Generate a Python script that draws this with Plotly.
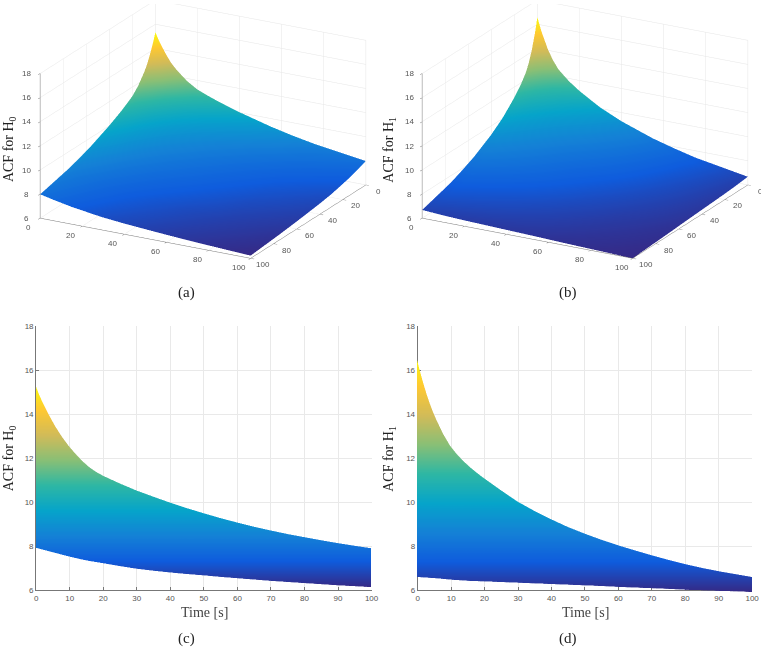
import numpy as np
import plotly.graph_objects as go

t_grid = [0, 2, 5, 7.5, 10, 15, 20, 25, 30, 40, 55, 65, 75, 100]
t_edge = [0, 1, 2, 3, 4, 5, 6, 8, 10, 12, 14, 16, 18, 20, 25, 30, 35, 40, 45, 50,
          55, 60, 65, 70, 75, 80, 85, 90, 95, 99.5]
ticks_3d = [0, 20, 40, 60, 80, 100]
ticks_time = [0, 10, 20, 30, 40, 50, 60, 70, 80, 90, 100]
ticks_acf = [6, 8, 10, 12, 14, 16, 18]

h0_rows = [
    [15.35, 14.6, 13.7, 13.05, 12.57, 11.8, 11.25, 10.9, 10.58, 10.03, 9.33, 8.94, 8.61, 7.98],
    [13.9, 13.05, 12.5, 12.06, 11.4, 10.9, 10.54, 10.21, 9.68, 9.02, 8.68, 8.36, 7.9],
    [12.49, 12.02, 11.63, 11.05, 10.58, 10.25, 9.97, 9.47, 8.86, 8.53, 8.23, 7.78],
    [11.67, 11.27, 10.75, 10.33, 10.0, 9.74, 9.28, 8.72, 8.41, 8.13, 7.69],
    [10.95, 10.47, 10.07, 9.79, 9.53, 9.10, 8.59, 8.30, 8.04, 7.6],
    [10.06, 9.71, 9.44, 9.20, 8.82, 8.35, 8.09, 7.85, 7.43],
    [9.40, 9.15, 8.93, 8.58, 8.16, 7.92, 7.70, 7.3],
    [8.93, 8.73, 8.40, 8.0, 7.77, 7.56, 7.17],
    [8.56, 8.23, 7.85, 7.63, 7.43, 7.05],
    [7.96, 7.62, 7.42, 7.23, 6.88],
    [7.33, 7.15, 6.98, 6.68],
    [7.0, 6.84, 6.56],
    [6.72, 6.45],
    [6.22],
]
h1_rows = [
    [16.6, 15.45, 14.1, 13.25, 12.6, 11.78, 11.14, 10.6, 10.08, 9.28, 8.35, 7.87, 7.44, 6.68],
    [14.1, 13.1, 12.5, 12.0, 11.24, 10.74, 10.28, 9.88, 9.18, 8.3, 7.83, 7.4, 6.65],
    [12.2, 11.75, 11.31, 10.75, 10.33, 9.95, 9.61, 9.01, 8.28, 7.83, 7.42, 6.62],
    [11.32, 10.99, 10.48, 10.09, 9.75, 9.45, 8.89, 8.2, 7.76, 7.37, 6.59],
    [10.72, 10.26, 9.89, 9.58, 9.30, 8.78, 8.12, 7.7, 7.32, 6.56],
    [9.84, 9.53, 9.26, 9.02, 8.57, 7.98, 7.6, 7.25, 6.52],
    [9.24, 9.0, 8.79, 8.39, 7.85, 7.49, 7.16, 6.48],
    [8.77, 8.56, 8.2, 7.71, 7.39, 7.08, 6.45],
    [8.35, 8.03, 7.59, 7.29, 7.01, 6.42],
    [7.70, 7.34, 7.09, 6.86, 6.36],
    [7.01, 6.82, 6.65, 6.27],
    [6.67, 6.51, 6.2],
    [6.39, 6.14],
    [6.0],
]
h0_upper = [15.35, 14.95, 14.6, 14.3, 14.0, 13.72, 13.45, 12.98, 12.57, 12.22, 11.9, 11.63,
            11.42, 11.25, 10.9, 10.58, 10.3, 10.03, 9.78, 9.55, 9.33, 9.13, 8.94, 8.77,
            8.61, 8.47, 8.33, 8.2, 8.08, 7.98]
h0_lower = [8.0, 7.96, 7.92, 7.88, 7.84, 7.8, 7.76, 7.68, 7.6, 7.53, 7.46, 7.4, 7.35, 7.3,
            7.17, 7.05, 6.96, 6.88, 6.81, 6.75, 6.68, 6.62, 6.56, 6.5, 6.45, 6.4, 6.35, 6.3,
            6.26, 6.22]
h1_upper = [16.6, 16.0, 15.45, 14.95, 14.5, 14.1, 13.75, 13.12, 12.6, 12.22, 11.9, 11.62,
            11.37, 11.14, 10.6, 10.08, 9.66, 9.28, 8.93, 8.63, 8.35, 8.1, 7.87, 7.65,
            7.44, 7.25, 7.08, 6.93, 6.8, 6.68]
h1_lower = [6.68, 6.67, 6.66, 6.65, 6.64, 6.63, 6.62, 6.59, 6.56, 6.54, 6.52, 6.5, 6.49,
            6.48, 6.45, 6.42, 6.39, 6.36, 6.33, 6.3, 6.27, 6.23, 6.2, 6.17, 6.14, 6.1, 6.08,
            6.05, 6.03, 6.0]
parula = ["#352A87", "#0F5CDD", "#1481D6", "#06A4CA", "#2EB7A4",
          "#87BF77", "#D1BB59", "#FEC832", "#F9FB0E"]


def full(rows):
    n = len(rows)
    m = np.zeros((n, n))
    for i, r in enumerate(rows):
        for k, v in enumerate(r):
            m[i, i + k] = v
            m[i + k, i] = v
    return m


W, H = 761, 647
F = 1 / .992  # the page comes out about 0.8% smaller in the photograph
scale = [[i / 8, c] for i, c in enumerate(parula)]
fig = go.Figure()


def surf(x, y, z, scene):
    fig.add_trace(go.Surface(
        x=x, y=y, z=z, scene=scene, colorscale=scale,
        showscale=False, hoverinfo="skip",
        lighting=dict(ambient=1, diffuse=0, specular=0, fresnel=0),
    ))


surf(t_grid, t_grid, full(h0_rows), "scene")
surf(t_grid, t_grid, full(h1_rows), "scene2")
surf(t_edge, [100, 0], [h0_lower, h0_upper], "scene3")
surf(t_edge, [100, 0], [h1_lower, h1_upper], "scene4")

TICK = dict(family="Liberation Sans", size=8, color="#555")


def ax(ticks, rng, reverse=False):
    return dict(
        range=rng[::-1] if reverse else rng,
        tickvals=ticks, showticklabels=False, title=dict(text=""),
        showgrid=True, gridcolor="#e6e6e6", gridwidth=1,
        showline=True, linecolor="#777", linewidth=1,
        ticks="outside", ticklen=4, tickcolor="#777",
        showbackground=False, zeroline=False, showspikes=False,
    )


def dom(cx, cy, hw, hh):
    return dict(x=[(cx - hw) / W, (cx + hw) / W], y=[1 - (cy + hh) / H, 1 - (cy - hh) / H])


k3 = 3.0
persp = dict(
    eye=dict(x=.451 * k3, y=-.824 * k3, z=.342 * k3), up=dict(x=0, y=0, z=1),
    center=dict(x=0, y=0, z=-.023), projection=dict(type="orthographic"),
)
k2 = 3.0
side = dict(
    eye=dict(x=0, y=-k2, z=0), up=dict(x=0, y=0, z=1),
    center=dict(x=0, y=0, z=0), projection=dict(type="orthographic"),
)
s3 = 1.875
s2 = 2.135


def tick_label(x, y, z, text, dx, dy):
    return dict(x=x, y=y, z=z, text=text, showarrow=False, xshift=dx, yshift=dy,
                font=TICK, xanchor="center", yanchor="middle")


def scene3d(cx, cy):
    labels = []
    for v in ticks_3d:
        labels.append(tick_label(v, 100, 6, str(v), -11, -9))
        labels.append(tick_label(100, v, 6, str(v), 13, -6))
    for v in ticks_acf:
        labels.append(tick_label(0, 100, v, str(v), -13, 0))
    return dict(
        domain=dom(cx, cy, 168, 130),
        xaxis=ax(ticks_3d, [0, 100]),
        yaxis=ax(ticks_3d, [0, 100], reverse=True),
        zaxis=ax(ticks_acf, [6, 18]),
        aspectmode="manual", aspectratio=dict(x=s3, y=s3, z=.643 * s3),
        camera=persp, annotations=labels,
    )


def hidden(rng):
    return dict(range=rng, visible=False)


def scene2d(cx, cy):
    return dict(
        domain=dom(cx * F, cy * F, 170, 160),
        xaxis=hidden([0, 100]), yaxis=hidden([0, 100]), zaxis=hidden([6, 18]),
        aspectmode="manual", aspectratio=dict(x=s2, y=.05, z=.789 * s2),
        camera=side,
    )


def cart(lo, hi):
    return dict(
        range=lo, domain=hi, showgrid=True, gridcolor="#e9e9e9", gridwidth=1,
        showline=True, linecolor="#777", linewidth=1, zeroline=False,
        ticks="inside", ticklen=3, tickcolor="#777", tickfont=TICK,
    )


# empty traces keep the 2D axes of panels (c) and (d) on the page
fig.add_trace(go.Scatter(x=[], y=[], xaxis="x", yaxis="y"))
fig.add_trace(go.Scatter(x=[], y=[], xaxis="x2", yaxis="y2"))

notes = []


def note(x, y, text, angle=0, size=15, color="#222"):
    notes.append(dict(
        x=x * F / W, y=1 - y * F / H, xref="paper", yref="paper", text=text, showarrow=False,
        textangle=angle, xanchor="center", yanchor="middle",
        font=dict(family="Liberation Serif", size=size, color=color),
    ))


note(185, 290, "(a)")
note(568, 290, "(b)")
note(185, 638, "(c)")
note(568, 638, "(d)")
note(7, 146, "ACF for H<sub>0</sub>", -90, 14)
note(389, 146, "ACF for H<sub>1</sub>", -90, 14)
note(7, 457, "ACF for H<sub>0</sub>", -90, 14)
note(389, 457, "ACF for H<sub>1</sub>", -90, 14)
note(203, 612, "Time [s]", 0, 14, "#444")
note(586, 612, "Time [s]", 0, 14, "#444")

ydom = [1 - 590 * F / H, 1 - 324 * F / H]
fig.update_layout(
    width=W, height=H, margin=dict(l=0, r=0, t=0, b=0), paper_bgcolor="white",
    plot_bgcolor="rgba(0,0,0,0)", showlegend=False, annotations=notes,
    scene=scene3d(203, 130), scene2=scene3d(590, 130),
    scene3=scene2d(202.7, 457), scene4=scene2d(585, 457),
    xaxis=dict(cart([0, 100], [34.3 * F / W, 371 * F / W]), tickvals=ticks_time, anchor="y"),
    yaxis=dict(cart([6, 18], ydom), tickvals=ticks_acf, anchor="x"),
    xaxis2=dict(cart([0, 100], [417.3 * F / W, 753 * F / W]), tickvals=ticks_time, anchor="y2"),
    yaxis2=dict(cart([6, 18], ydom), tickvals=ticks_acf, anchor="x2"),
)
fig.write_html(
    "out.html",
    post_script=("document.body.style.margin='0';"
                 "document.documentElement.style.overflow='hidden';"
                 "document.body.style.overflow='hidden';"),
    config=dict(displayModeBar=False),
)
